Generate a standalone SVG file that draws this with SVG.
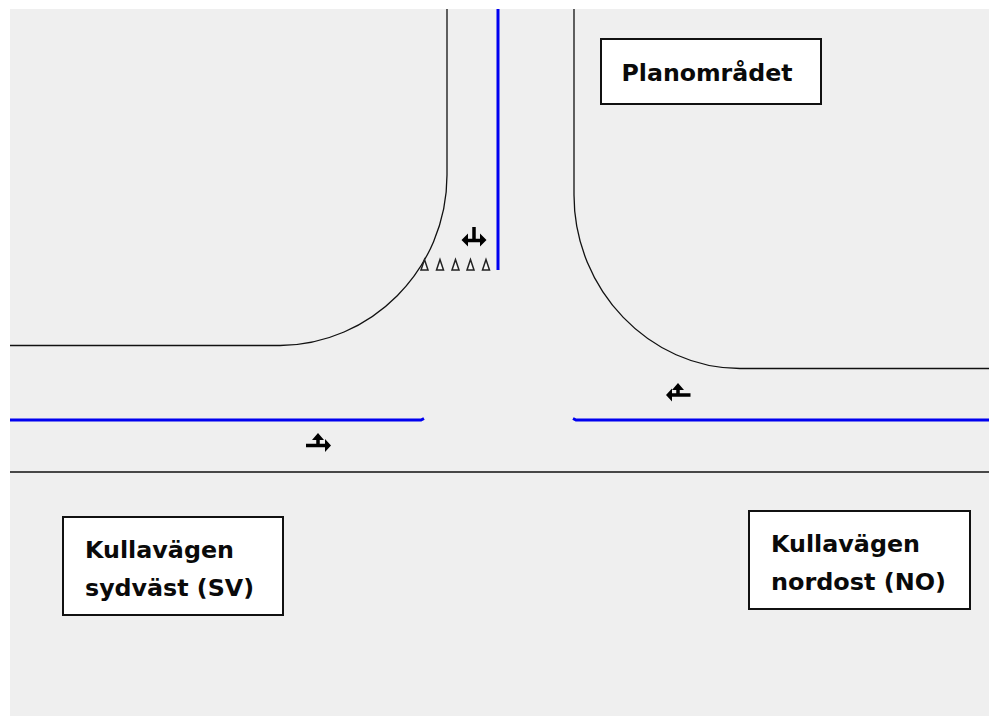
<svg xmlns="http://www.w3.org/2000/svg" width="989" height="716" viewBox="0 0 989 716">
<style>
.road{fill:none;stroke:#111;stroke-width:1.3}
.blue{fill:none;stroke:#0000f0;stroke-width:3}
.box{fill:#fff;stroke:#111;stroke-width:2}
.lbl{font-family:"DejaVu Sans","Liberation Sans",sans-serif;font-weight:bold;font-size:23px;fill:#0a0a0a}
.arrow{fill:none;stroke:#000;stroke-width:3.5}
.head{fill:#000}
.cone{fill:#f8f8f8;stroke:#222;stroke-width:1.5}
</style>
<defs><path id="c" class="cone" d="M0 0L-3.500 10.500H3.500Z"/></defs>
<rect width="989" height="716" fill="#fff"/>
<rect x="10" y="9" width="979" height="707" fill="#efefef"/>
<g id="connectors">
<path class="road" d="M10 345.500H280C370 345 447 270 447 175V9"/>
<path class="road" d="M574 9V195C574 290 650 368.500 740 368.500H989"/>
<path class="road" d="M10 472H989" stroke-width="1.6"/>
<path class="blue" d="M498 9V270"/>
<path class="blue" d="M10 420H421L424 418.500"/>
<path class="blue" d="M989 420H576L573 418.500"/>
</g>
<g id="sign-n">
<path class="arrow" d="M466 240.500H482M474 240.500V227"/>
<path class="head" d="M461.500 240L468 233.500V246.500ZM486.500 240L480 233.500V246.500Z"/>
</g>
<g id="sign-sv">
<path class="arrow" d="M306 445.500H326M318 445.500V438"/>
<path class="head" d="M331 445.500L325 439V452ZM318 433L312 440H324Z"/>
</g>
<g id="sign-no">
<path class="arrow" d="M690.500 395H671M678 395V388"/>
<path class="head" d="M666 395L672 388.500V401.500ZM678 383L672 390H684Z"/>
</g>
<g id="yield">
<use href="#c" x="424.500" y="259.500"/>
<use href="#c" x="440" y="259.500"/>
<use href="#c" x="455.500" y="259.500"/>
<use href="#c" x="470.500" y="259.500"/>
<use href="#c" x="486" y="259.500"/>
</g>
<g id="planomradet">
<rect class="box" x="601" y="39" width="220" height="65"/>
<text class="lbl" x="621.500" y="81" textLength="171" lengthAdjust="spacingAndGlyphs">Planområdet</text>
</g>
<g id="kullavagen-sv">
<rect class="box" x="63" y="517" width="220" height="98"/>
<text class="lbl" x="85" y="558" textLength="149" lengthAdjust="spacingAndGlyphs">Kullavägen</text>
<text class="lbl" x="85" y="596" textLength="169" lengthAdjust="spacingAndGlyphs">sydväst (SV)</text>
</g>
<g id="kullavagen-no">
<rect class="box" x="749" y="511" width="221" height="98"/>
<text class="lbl" x="771" y="552" textLength="149" lengthAdjust="spacingAndGlyphs">Kullavägen</text>
<text class="lbl" x="771" y="590" textLength="175" lengthAdjust="spacingAndGlyphs">nordost (NO)</text>
</g>
</svg>
